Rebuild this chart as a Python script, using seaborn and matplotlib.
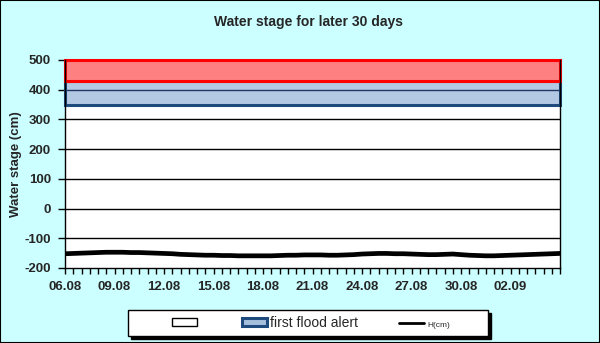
import numpy as np
import pandas as pd
import matplotlib
matplotlib.use("Agg")
import matplotlib.pyplot as plt
import matplotlib.dates as mdates
from matplotlib.patches import Patch, Rectangle
from matplotlib.lines import Line2D
import seaborn as sns

# Half-daily water stage readings (cm), 06.08 00:00 to 05.09 00:00
start = "2024-08-06 00:00"
stage_cm = [-152, -151, -150, -149, -148, -147, -147, -147, -148, -148,
            -149, -150, -151, -152, -154, -155, -156, -157, -157, -158,
            -158, -159, -159, -159, -159, -159, -158, -157, -157, -156,
            -156, -156, -157, -157, -156, -155, -153, -152, -151, -151,
            -152, -152, -153, -154, -155, -155, -154, -153, -155, -157,
            -158, -159, -159, -158, -157, -156, -155, -154, -153, -152,
            -151]
alert_first = (350, 430)
alert_second = (430, 500)
yticks = [-200, -100, 0, 100, 200, 300, 400, 500]
date_labels = ["06.08", "09.08", "12.08", "15.08", "18.08", "21.08",
               "24.08", "27.08", "30.08", "02.09"]

times = pd.date_range(start, periods=len(stage_cm), freq="12h")
df = pd.DataFrame({"time": times, "H(cm)": stage_cm})

sns.set_style("white")
plt.rcParams["font.family"] = ["Liberation Sans", "DejaVu Sans"]

W, H = 600, 343
fig = plt.figure(figsize=(W / 100, H / 100), dpi=100, facecolor="#CCFFFF")
ax = fig.add_axes([65 / W, 1 - 268 / H, 495 / W, 208 / H])
ax.set_facecolor("white")

ax.set_xlim(times[0], times[-1])
ax.set_ylim(-200, 500)

# gridlines
for yv in yticks[1:-1]:
    ax.axhline(yv, color="#203864" if yv == 400 else "black", lw=1.0, zorder=1)

# alert bands
ax.axhspan(alert_first[0], alert_first[1], facecolor="#A6BFDD", alpha=0.85,
           edgecolor="none", zorder=0.5)
ax.add_patch(Rectangle((0, alert_first[0]), 1, alert_first[1] - alert_first[0],
                       transform=ax.get_yaxis_transform(), fill=False,
                       edgecolor="#1F4A7D", lw=2.2, zorder=2, clip_on=False))
ax.add_patch(Rectangle((0, alert_second[0]), 1, alert_second[1] - alert_second[0],
                       transform=ax.get_yaxis_transform(), facecolor="#FF8080",
                       edgecolor="#FF0000", lw=2.2, zorder=2, clip_on=False))

sns.lineplot(data=df, x="time", y="H(cm)", color="black", lw=3.4, ax=ax,
             zorder=3, legend=False)

# axes styling
ax.spines["top"].set_visible(False)
for side in ["left", "right", "bottom"]:
    ax.spines[side].set_color("black")
    ax.spines[side].set_linewidth(1.0)

ax.set_yticks(yticks)
ax.set_yticklabels([str(v) for v in yticks], fontsize=9.5, fontweight="bold")
ax.tick_params(axis="y", direction="out", length=5, width=1, color="black",
               pad=5, left=True)

major = [pd.Timestamp(f"2024-{d[3:]}-{d[:2]}") for d in date_labels]
ax.set_xticks(major)
ax.set_xticklabels(date_labels, fontsize=9.5, fontweight="bold")
ax.xaxis.set_minor_locator(mdates.HourLocator(byhour=[0, 12]))
ax.tick_params(axis="x", which="both", direction="out", length=4, width=1,
               color="black", bottom=True, pad=5)

ax.set_xlabel("")
ax.set_ylabel("Water stage (cm)", fontsize=9.5, fontweight="bold", labelpad=2)

fig.text(308 / W, 1 - 22 / H, "Water stage for later 30 days", ha="center",
         va="center", fontsize=10, fontweight="bold")

# legend box with drop shadow
bx, by, bw, bh = 128, 310, 360, 26
fig.patches.append(Rectangle(((bx + 3) / W, 1 - (by + bh + 3) / H), bw / W, bh / H,
                             transform=fig.transFigure, facecolor="black",
                             edgecolor="black", lw=1, zorder=1))
fig.patches.append(Rectangle((bx / W, 1 - (by + bh) / H), bw / W, bh / H,
                             transform=fig.transFigure, facecolor="white",
                             edgecolor="black", lw=1, zorder=2))

handles = [
    Patch(facecolor="white", edgecolor="black", lw=1.0),
    Patch(facecolor="#A6BFDD", edgecolor="#1F4A7D", lw=2.2),
    Line2D([0], [0], color="black", lw=2),
]
labels = ["", "first flood alert", "H(cm)"]
leg = fig.legend(handles, labels, loc="center",
                 bbox_to_anchor=(311 / W, 1 - (by + bh / 2) / H),
                 ncol=3, frameon=False, fontsize=10, handlelength=1.8,
                 handleheight=0.45, columnspacing=3.0, borderpad=0.2,
                 handletextpad=0.2)
leg.set_zorder(3)
leg.get_texts()[2].set_fontsize(6)

# figure border
fig.patches.append(Rectangle((0, 0), 1, 1, transform=fig.transFigure, fill=False,
                             edgecolor="black", lw=1.5, zorder=5))

fig.savefig("out.png", dpi=100, facecolor=fig.get_facecolor())
